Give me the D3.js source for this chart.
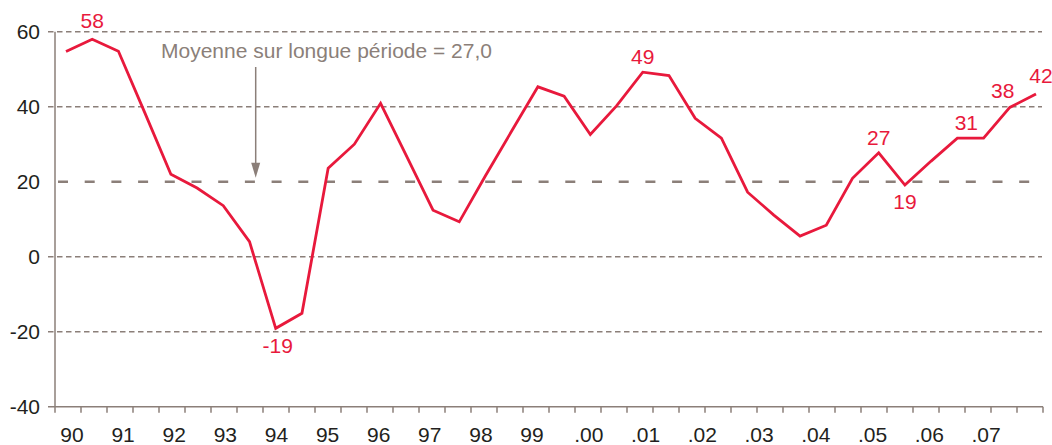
<!DOCTYPE html>
<html>
<head>
<meta charset="utf-8">
<script src="https://cdn.jsdelivr.net/npm/d3@7"></script>
<style>
	body { margin: 0; background: #fff; }
	text { font-family: 'Liberation Sans', Arial, sans-serif; font-size: 21px; }
	.axisLabel { fill: #231f20; }
	.valueLabel { fill: #e8193c; }
	.noteLabel { fill: #8b7f79; }
</style>
</head>
<body>
<div id="js_chart"></div>
<script>
/*globals d3*/
'use strict';

// semiannual series, 1990 H1 .. 2008 H2
const periods = ['90a', '90b', '91a', '91b', '92a', '92b', '93a', '93b', '94a', '94b',
	'95a', '95b', '96a', '96b', '97a', '97b', '98a', '98b', '99a', '99b',
	'00a', '00b', '01a', '01b', '02a', '02b', '03a', '03b', '04a', '04b',
	'05a', '05b', '06a', '06b', '07a', '07b', '08a', '08b'];
const values = [54.7, 58.0, 54.8, 38.5, 22.0, 18.3, 13.6, 4.0, -19.1, -15.1,
	23.6, 30.0, 40.9, 26.7, 12.4, 9.3, 21.6, 33.5, 45.3, 42.8,
	32.6, 40.2, 49.2, 48.3, 36.9, 31.6, 17.2, 11.1, 5.5, 8.4,
	20.9, 27.7, 19.1, 25.5, 31.6, 31.6, 39.8, 43.4];
const yearLabels = ['90', '91', '92', '93', '94', '95', '96', '97', '98', '99',
	'.00', '.01', '.02', '.03', '.04', '.05', '.06', '.07'];
const yTicks = [-40, -20, 0, 20, 40, 60];
const meanLevel = 20;
const meanText = 'Moyenne sur longue période = 27,0';
const pointLabels = [
	{ period: '90b', text: '58' },
	{ period: '94a', text: '-19' },
	{ period: '01a', text: '49' },
	{ period: '05b', text: '27' },
	{ period: '06a', text: '19' },
	{ period: '07a', text: '31' },
	{ period: '08a', text: '38' },
	{ period: '08b', text: '42' }
];

(function () {
	const width = 1052;
	const height = 445;
	const gridColor = '#8b7f79';
	const lineColor = '#e8193c';
	const axisLeft = 55;
	const axisRight = 1043;
	// label offsets relative to the point (dx, baseline dy)
	const labelOffsets = {
		'58': [0, -11], '-19': [2, 25], '49': [0, -8], '27': [0, -8],
		'19': [0, 24], '31': [9, -8], '38': [-7, -9], '42': [5, -11]
	};

	let svg = d3.select('#js_chart').append('svg')
		.attr('width', width)
		.attr('height', height);

	let yScale = d3.scaleLinear().domain([-40, 60]).range([406.7, 31.7]);
	let xPoint = d3.scalePoint().domain(periods).range([66, 1036]);
	let xTick = d3.scaleLinear().domain([0, periods.length]).range([axisLeft, axisRight]);
	// year labels drift a little in the original, piecewise scale
	let xLabel = d3.scaleLinear().domain([0, 9, yearLabels.length - 1]).range([72, 532, 986]);

	function drawGrid() {
		let _grid = yTicks.filter(function (d) { return d !== -40 && d !== meanLevel; });
		svg.selectAll('.gridLine').data(_grid).enter().append('line')
			.classed('gridLine', true)
			.attr('x1', 48)
			.attr('x2', 1042)
			.attr('y1', function (d) { return yScale(d); })
			.attr('y2', function (d) { return yScale(d); })
			.style('stroke', gridColor)
			.style('stroke-width', 1.4)
			.style('stroke-dasharray', '5.5,3.5');
		// mean line
		svg.append('line')
			.attr('x1', 58)
			.attr('x2', 1034)
			.attr('y1', yScale(meanLevel))
			.attr('y2', yScale(meanLevel))
			.style('stroke', gridColor)
			.style('stroke-width', 2.6)
			.style('stroke-dasharray', '10,16.7');
	}

	function drawAxes() {
		svg.append('line')
			.attr('x1', axisLeft).attr('x2', axisLeft)
			.attr('y1', yScale(60)).attr('y2', yScale(-40))
			.style('stroke', gridColor)
			.style('stroke-width', 1.5);
		svg.append('line')
			.attr('x1', 48).attr('x2', axisRight)
			.attr('y1', yScale(-40)).attr('y2', yScale(-40))
			.style('stroke', gridColor)
			.style('stroke-width', 1.5);
		svg.selectAll('.xTick').data(d3.range(periods.length + 1)).enter().append('line')
			.classed('xTick', true)
			.attr('x1', function (d) { return xTick(d); })
			.attr('x2', function (d) { return xTick(d); })
			.attr('y1', yScale(-40))
			.attr('y2', yScale(-40) + 6)
			.style('stroke', gridColor)
			.style('stroke-width', 1.5);
		svg.selectAll('.yLabel').data(yTicks).enter().append('text')
			.classed('axisLabel', true)
			.attr('x', 40)
			.attr('y', function (d) { return yScale(d); })
			.attr('dy', '.33em')
			.attr('text-anchor', 'end')
			.text(function (d) { return d; });
		svg.selectAll('.xLabel').data(yearLabels).enter().append('text')
			.classed('axisLabel', true)
			.attr('x', function (d, i) { return xLabel(i); })
			.attr('y', 442)
			.attr('text-anchor', 'middle')
			.text(function (d) { return d; });
	}

	function drawNote() {
		svg.append('text')
			.classed('noteLabel', true)
			.attr('x', 161)
			.attr('y', 58)
			.text(meanText);
		const _ax = 255.7;
		const _tip = yScale(meanLevel) - 4;
		svg.append('line')
			.attr('x1', _ax).attr('x2', _ax)
			.attr('y1', 67).attr('y2', _tip - 12)
			.style('stroke', gridColor)
			.style('stroke-width', 1.5);
		svg.append('polygon')
			.attr('points', (_ax - 4.5) + ',' + (_tip - 15) + ' ' + (_ax + 4.5) + ',' + (_tip - 15) + ' ' + _ax + ',' + _tip)
			.style('fill', gridColor);
	}

	function drawSeries() {
		let _line = d3.line()
			.x(function (d, i) { return xPoint(periods[i]); })
			.y(function (d) { return yScale(d); });
		svg.append('path')
			.datum(values)
			.attr('d', _line)
			.style('fill', 'none')
			.style('stroke', lineColor)
			.style('stroke-width', 2.8)
			.style('stroke-linejoin', 'miter');
		svg.selectAll('.valueLabel').data(pointLabels).enter().append('text')
			.classed('valueLabel', true)
			.attr('x', function (d) { return xPoint(d.period) + labelOffsets[d.text][0]; })
			.attr('y', function (d) { return yScale(values[periods.indexOf(d.period)]) + labelOffsets[d.text][1]; })
			.attr('text-anchor', 'middle')
			.text(function (d) { return d.text; });
	}

	drawGrid();
	drawAxes();
	drawNote();
	drawSeries();
})();
</script>
</body>
</html>
